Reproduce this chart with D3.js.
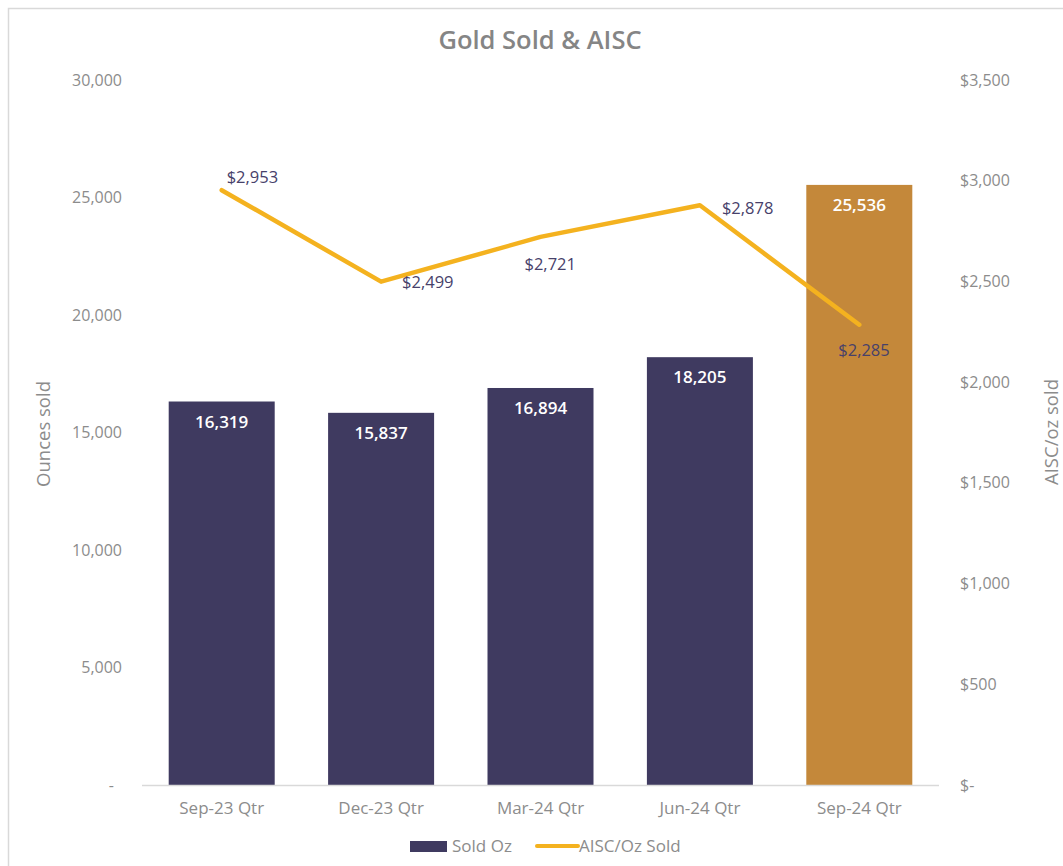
<!DOCTYPE html>
<html><head><meta charset="utf-8">
<script src="https://cdn.jsdelivr.net/npm/d3@7"></script>
<style>body{margin:0;background:#fff}svg{display:block}</style>
</head><body>
<script>
const categories = ["Sep-23 Qtr","Dec-23 Qtr","Mar-24 Qtr","Jun-24 Qtr","Sep-24 Qtr"];
const soldOz = [16319,15837,16894,18205,25536];
const aisc = [2953,2499,2721,2878,2285];
const leftTicks = [0,5000,10000,15000,20000,25000,30000];
const rightTicks = [0,500,1000,1500,2000,2500,3000,3500];

const W=1063,H=866;
const svg=d3.select("body").append("svg").attr("width",W).attr("height",H);
svg.append("rect").attr("x",8.5).attr("y",8.5).attr("width",W+10).attr("height",H+10).attr("fill","none").attr("stroke","#d9d9d9").attr("stroke-width",1.5);

const m={l:142,r:939,t:80,b:785};
const x=d3.scaleBand().domain(categories).range([m.l,m.r]).paddingInner(0.335).paddingOuter(0.1675);
const yL=d3.scaleLinear().domain([0,30000]).range([m.b,m.t]);
const yR=d3.scaleLinear().domain([0,3500]).range([m.b,m.t]);
const gray="#8c8c8c", purple="#3f3a60", gold="#c4883a", lineC="#f4b21f";
const tickFont="'Open Sans', sans-serif";
const condFont="'Open Sans',sans-serif";

svg.append("text").attr("x",540).attr("y",49).attr("text-anchor","middle")
 .attr("font-family","'Open Sans',sans-serif").attr("font-weight",600).attr("font-size",25.5).attr("fill","#858585").text("Gold Sold & AISC");

// left axis
const gL=svg.append("g").attr("transform",`translate(${m.l},0)`)
 .call(d3.axisLeft(yL).tickValues(leftTicks).tickSize(0).tickPadding(20).tickFormat(d=>d===0?"-":d3.format(",")(d)));
gL.select(".domain").remove();
gL.selectAll("text").attr("font-family",tickFont).attr("font-size",16).attr("fill",gray)
 .attr("dx",d=>d===0?-8:0);
// right axis
const gR=svg.append("g").attr("transform",`translate(${m.r},0)`)
 .call(d3.axisRight(yR).tickValues(rightTicks).tickSize(0).tickPadding(21).tickFormat(d=>d===0?"$-":"$"+d3.format(",")(d)));
gR.select(".domain").remove();
gR.selectAll("text").attr("font-family",tickFont).attr("font-size",16).attr("fill",gray);

// bars
svg.selectAll("rect.bar").data(soldOz).join("rect").attr("class","bar")
 .attr("x",(d,i)=>x(categories[i])).attr("width",x.bandwidth())
 .attr("y",d=>yL(d)).attr("height",d=>m.b-yL(d))
 .attr("fill",(d,i)=>i===4?gold:purple);
svg.selectAll("text.bl").data(soldOz).join("text").attr("class","bl")
 .attr("x",(d,i)=>x(categories[i])+x.bandwidth()/2).attr("y",d=>yL(d)+26)
 .attr("text-anchor","middle").attr("font-family",tickFont).attr("font-weight",600).attr("font-size",17).attr("fill","#fff")
 .text(d=>d3.format(",")(d));

// baseline
svg.append("line").attr("x1",m.l).attr("x2",m.r).attr("y1",m.b+0.5).attr("y2",m.b+0.5).attr("stroke","#d9d9d9").attr("stroke-width",1.5);

// category labels
svg.selectAll("text.cat").data(categories).join("text").attr("class","cat")
 .attr("x",d=>x(d)+x.bandwidth()/2).attr("y",m.b+29).attr("text-anchor","middle")
 .attr("font-family",condFont).attr("font-size",17).attr("fill",gray).text(d=>d);

// line
const cx=i=>x(categories[i])+x.bandwidth()/2;
svg.append("path").datum(aisc).attr("fill","none").attr("stroke",lineC).attr("stroke-width",4.5).attr("stroke-linecap","round").attr("stroke-linejoin","round")
 .attr("d",d3.line().x((d,i)=>cx(i)).y(d=>yR(d)));
const offs=[[5,-7,"start"],[21,6,"start"],[-16,33,"start"],[22,9,"start"],[-21,31,"start"]];
svg.selectAll("text.ll").data(aisc).join("text").attr("class","ll")
 .attr("x",(d,i)=>cx(i)+offs[i][0]).attr("y",(d,i)=>yR(d)+offs[i][1])
 .attr("text-anchor",(d,i)=>offs[i][2]).attr("font-family","'Open Sans',sans-serif").attr("font-size",16.5).attr("fill","#47416a")
 .text(d=>"$"+d3.format(",")(d));

// axis titles
svg.append("text").attr("transform","translate(50,434) rotate(-90)").attr("text-anchor","middle")
 .attr("font-family",tickFont).attr("font-size",18.5).attr("fill",gray).text("Ounces sold");
svg.append("text").attr("transform","translate(1058,432) rotate(-90)").attr("text-anchor","middle")
 .attr("font-family",tickFont).attr("font-size",18.5).attr("fill",gray).text("AISC/oz sold");

// legend
svg.append("rect").attr("x",410).attr("y",841).attr("width",37).attr("height",11).attr("fill",purple);
svg.append("text").attr("x",452).attr("y",852).attr("font-family",condFont).attr("font-size",17).attr("fill",gray).text("Sold Oz");
svg.append("line").attr("x1",537).attr("x2",578).attr("y1",846).attr("y2",846).attr("stroke",lineC).attr("stroke-width",4).attr("stroke-linecap","round");
svg.append("text").attr("x",579).attr("y",852).attr("font-family",condFont).attr("font-size",17).attr("fill",gray).text("AISC/Oz Sold");
</script>
</body></html>
